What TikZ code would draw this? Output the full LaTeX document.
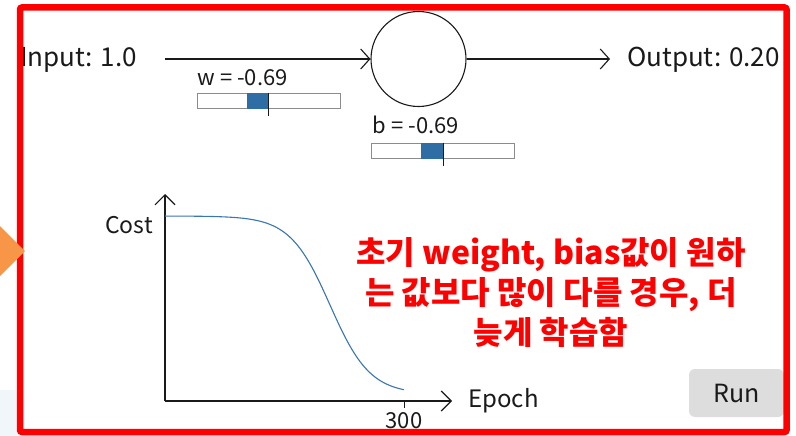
\documentclass[tikz,border=0pt]{standalone}
\usepackage{fontspec}
\setmainfont{Noto Sans CJK KR}
\usetikzlibrary{arrows.meta, positioning, calc}
\definecolor{cFrame}{HTML}{FF0000}
\definecolor{cPoint}{HTML}{F79646}
\definecolor{cSlide}{HTML}{2F6EA5}
\definecolor{cCurve}{HTML}{3A76B0}
\definecolor{cInk}{HTML}{1A1A1A}
\definecolor{cTrack}{HTML}{8C8C8C}
\definecolor{cButton}{HTML}{DDDDDD}
\definecolor{cShade}{HTML}{F1F6FB}
\tikzset{
  lbl/.style={inner sep=0pt, text=cInk, font=\fontsize{#1}{#1}\selectfont},
  flow/.style={-{Straight Barb[length=9pt, width=20pt]}, draw=cInk, line width=1.1pt},
  track/.style={rectangle, draw=cTrack, line width=1pt, fill=white, minimum width=143pt, minimum height=15pt, inner sep=0pt},
  knob/.style={fill=cSlide},
  axis/.style={-{Straight Barb[length=10pt, width=20pt]}, draw=cInk, line width=1.1pt},
}
\newcommand{\slidebar}[3]{% name, center, blue offset
  \node[track] (#1) at #2 {};
  \fill[knob] ($(#1.north)+(#3,0)$) rectangle (#1.south);
  \draw[cInk, line width=1pt] (#1.north) -- ++(0,23);
}

\begin{document}
\begin{tikzpicture}[x=1pt, y=-1pt]
\fill[white] (0,0) rectangle (796,436);
\useasboundingbox (0,0) rectangle (796,436);
% slide background bits
\fill[cShade] (0,390) rectangle (17,436);
% neuron row
\node[lbl=26, anchor=base west] (input) at (20,66.5) {Input: 1.0};
\node[circle, draw=cInk, line width=1.1pt, minimum size=95pt, inner sep=0pt] (neuron) at (418.5,59) {};
\node[lbl=26, anchor=base west] (output) at (627,66.5) {Output: 0.20};
\coordinate (wire) at (165,59);
\draw[flow] (wire) -- (neuron.west);
\draw[flow, shorten >=17pt] (neuron.east) -- (output.west |- neuron.east);
% sliders
\node[lbl=22, anchor=base] (wval) at (242.5,85) {w = -0.69};
\slidebar{wbar}{(268.5,101.5)}{-22}
\node[lbl=22, anchor=base] (bval) at (416,133) {b = -0.69};
\slidebar{bbar}{(443,150.5)}{-22}
% cost chart
\coordinate (origin) at (165,401);
\coordinate (ytop) at (165,194);
\coordinate (xend) at (452,401);
\coordinate (tick) at (404,401);
\draw[axis] (origin) -- (ytop);
\draw[axis] (origin) -- (xend);
\draw[cInk, line width=1pt] (tick) -- ++(0,7);
\draw[cCurve, line width=1.1pt] plot[domain=165:404, samples=120, smooth] (\x, {216+178/(1+exp(-(\x-330)/20))});
\node[lbl=23, anchor=base east] (cost) at (153,233) {Cost};
\node[lbl=24, anchor=base west] (epoch) at (468,407) {Epoch};
\node[lbl=22, anchor=base] (max) at (404,428) {300};
% remark
\node[font=\fontsize{32}{40}\selectfont\bfseries, text=cFrame, align=center, inner sep=0pt] (note) at (551,292) {초기 weight, bias값이 원하\\는 값보다 많이 다를 경우, 더\\늦게 학습함};
% run button
\node[rectangle, rounded corners=6pt, fill=cButton, minimum width=95pt, minimum height=48pt, lbl=25] (run) at (736.5,393) {Run};
% frame
\draw[cFrame, line width=6.5pt, rounded corners=2pt] (20,7.5) rectangle (786.5,432);
\fill[cPoint] (0,226) -- (25,251) -- (0,276) -- cycle;
\end{tikzpicture}
\end{document}
